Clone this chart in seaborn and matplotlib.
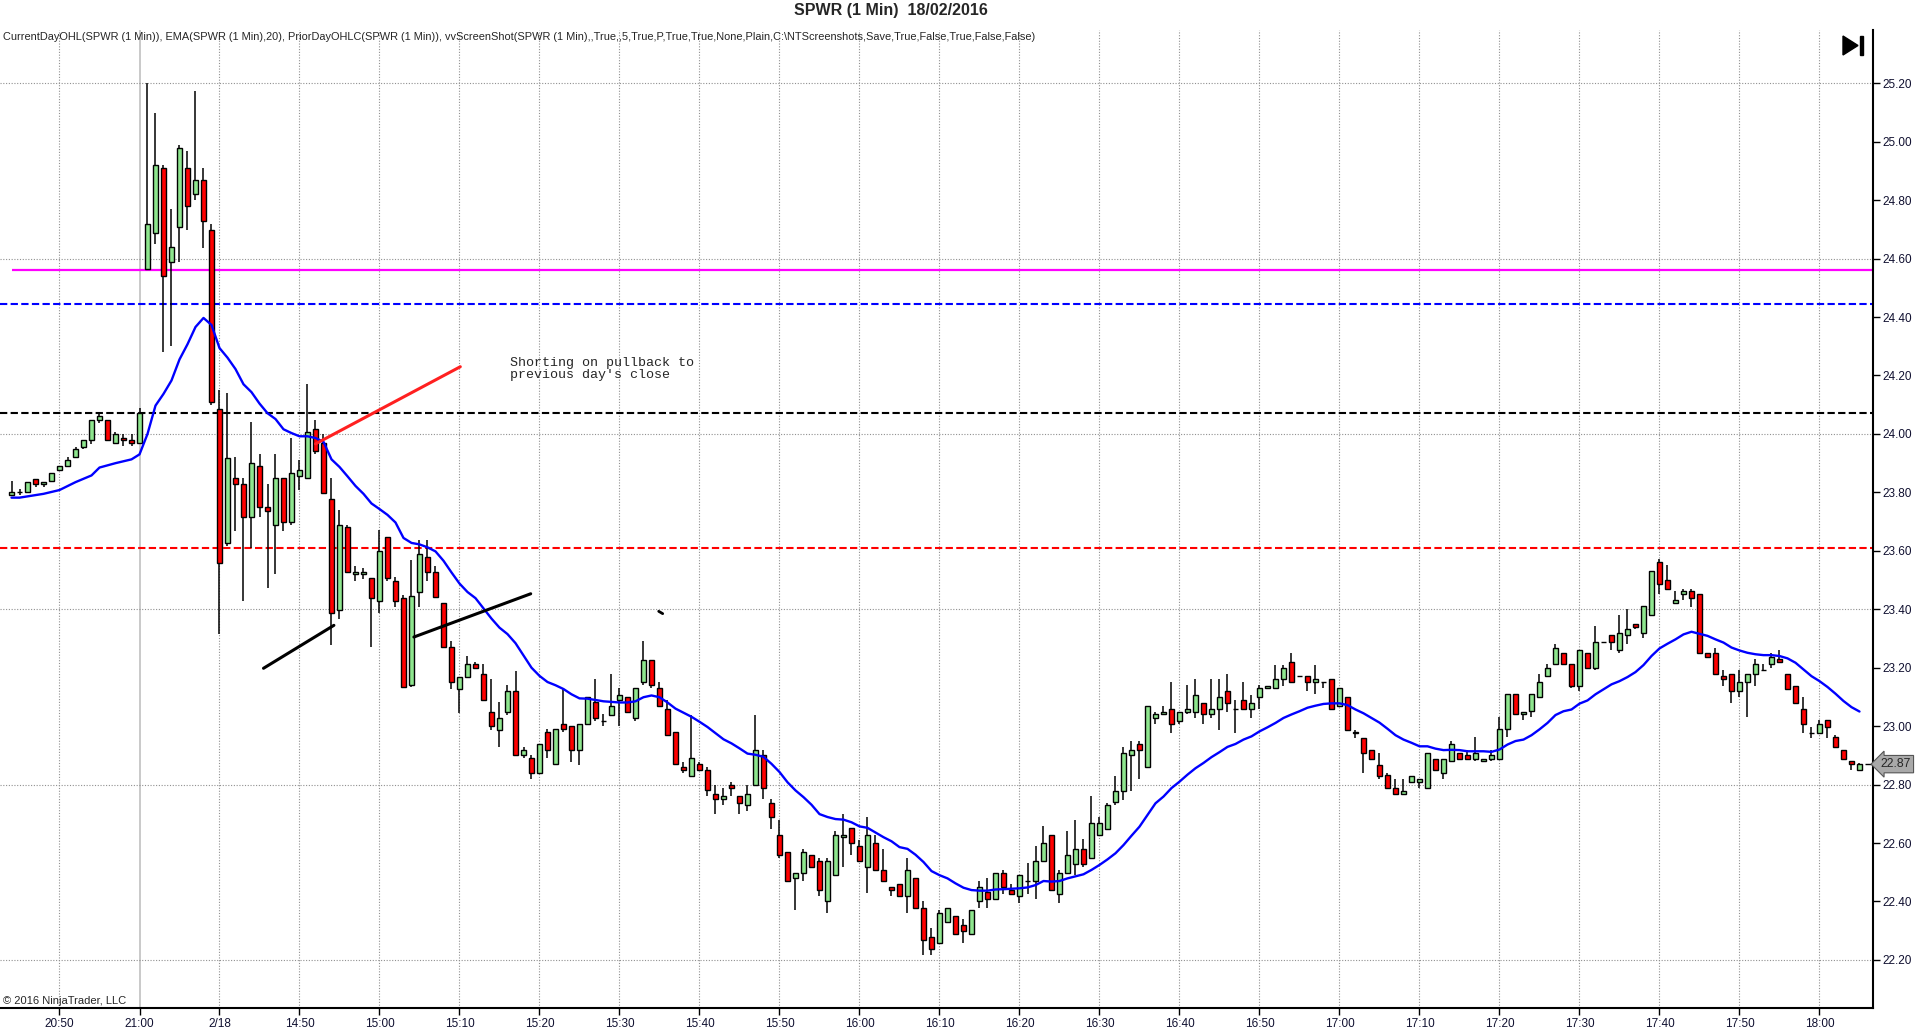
import numpy as np
import pandas as pd
import matplotlib
matplotlib.use("Agg")
import matplotlib.pyplot as plt
import matplotlib.transforms as mtransforms
from matplotlib.patches import Polygon
import seaborn as sns

# 1 分钟K线数据
open_ = [
    23.79, 23.80, 23.80, 23.845, 23.83, 23.838, 23.878, 23.89, 23.92, 23.955,
    23.98, 24.049, 24.049, 23.969, 23.987, 23.978, 23.969, 24.563, 24.688, 24.91,
    24.59, 24.708, 24.91, 24.82, 24.869, 24.697, 24.087, 23.627, 23.848, 23.83,
    23.716, 23.89, 23.749, 23.69, 23.848, 23.70, 23.857, 23.848, 24.018, 23.969,
    23.778, 23.399, 23.68, 23.52, 23.52, 23.506, 23.428, 23.648, 23.497, 23.438,
    23.14, 23.458, 23.578, 23.529, 23.42, 23.27, 23.127, 23.169, 23.211, 23.18,
    23.05, 22.987, 23.049, 23.119, 22.90, 22.89, 22.84, 22.979, 22.87, 23.008,
    22.999, 22.92, 23.008, 23.081, 23.018, 23.039, 23.088, 23.10, 23.029, 23.15,
    23.228, 23.129, 23.06, 22.979, 22.859, 22.83, 22.869, 22.85, 22.769, 22.75,
    22.80, 22.76, 22.73, 22.80, 22.90, 22.738, 22.629, 22.57, 22.479, 22.499,
    22.559, 22.54, 22.40, 22.489, 22.62, 22.65, 22.59, 22.519, 22.60, 22.509,
    22.45, 22.46, 22.42, 22.479, 22.376, 22.278, 22.258, 22.33, 22.35, 22.319,
    22.288, 22.40, 22.433, 22.408, 22.497, 22.439, 22.418, 22.47, 22.47, 22.539,
    22.628, 22.427, 22.497, 22.528, 22.58, 22.549, 22.628, 22.648, 22.739, 22.779,
    22.90, 22.94, 22.859, 23.029, 23.04, 23.06, 23.019, 23.05, 23.05, 23.08,
    23.04, 23.06, 23.119, 23.06, 23.09, 23.06, 23.10, 23.129, 23.129, 23.16,
    23.22, 23.17, 23.17, 23.15, 23.15, 23.16, 23.07, 23.10, 22.977, 22.96,
    22.92, 22.868, 22.832, 22.789, 22.769, 22.809, 22.809, 22.789, 22.889, 22.84,
    22.88, 22.909, 22.90, 22.889, 22.88, 22.889, 22.889, 22.989, 23.109, 23.04,
    23.051, 23.10, 23.171, 23.211, 23.249, 23.211, 23.139, 23.249, 23.20, 23.289,
    23.311, 23.26, 23.311, 23.349, 23.32, 23.38, 23.562, 23.499, 23.42, 23.451,
    23.463, 23.451, 23.249, 23.249, 23.171, 23.18, 23.12, 23.151, 23.18, 23.191,
    23.211, 23.229, 23.18, 23.139, 23.06, 22.977, 22.977, 23.02, 22.962, 22.92,
    22.88, 22.85,
]
high_ = [
    23.84, 23.81, 23.835, 23.845, 23.836, 23.868, 23.89, 23.92, 23.955, 23.98,
    24.049, 24.07, 24.049, 24.008, 24.0, 24.0, 24.088, 25.20, 25.10, 24.922,
    24.77, 24.99, 24.969, 25.174, 24.91, 24.718, 24.15, 24.139, 23.92, 23.848,
    24.04, 23.932, 23.83, 23.932, 23.848, 23.987, 23.91, 24.172, 24.049, 24.0,
    23.848, 23.739, 23.69, 23.548, 23.54, 23.506, 23.67, 23.648, 23.509, 23.45,
    23.57, 23.638, 23.638, 23.548, 23.42, 23.29, 23.169, 23.239, 23.221, 23.211,
    23.16, 23.081, 23.14, 23.19, 22.93, 22.90, 22.94, 22.99, 22.989, 23.13,
    22.999, 23.008, 23.10, 23.16, 23.04, 23.18, 23.13, 23.10, 23.129, 23.29,
    23.228, 23.15, 23.088, 22.979, 22.878, 23.039, 22.878, 22.859, 22.80, 22.79,
    22.808, 22.76, 22.80, 23.039, 22.92, 22.75, 22.68, 22.57, 22.499, 22.58,
    22.559, 22.55, 22.55, 22.64, 22.70, 22.65, 22.61, 22.69, 22.629, 22.58,
    22.45, 22.46, 22.55, 22.479, 22.40, 22.31, 22.37, 22.376, 22.35, 22.34,
    22.37, 22.47, 22.48, 22.497, 22.509, 22.46, 22.49, 22.53, 22.59, 22.658,
    22.628, 22.508, 22.64, 22.679, 22.613, 22.76, 22.69, 22.736, 22.83, 22.93,
    22.95, 22.95, 23.07, 23.05, 23.07, 23.15, 23.05, 23.14, 23.16, 23.08,
    23.16, 23.16, 23.18, 23.09, 23.15, 23.108, 23.14, 23.139, 23.21, 23.21,
    23.25, 23.17, 23.17, 23.21, 23.15, 23.16, 23.129, 23.10, 22.987, 22.96,
    22.92, 22.908, 22.84, 22.82, 22.82, 22.83, 22.82, 22.909, 22.889, 22.889,
    22.95, 22.909, 22.92, 22.962, 22.889, 22.92, 23.03, 23.109, 23.109, 23.05,
    23.109, 23.18, 23.211, 23.28, 23.249, 23.211, 23.259, 23.249, 23.343, 23.289,
    23.311, 23.38, 23.40, 23.349, 23.411, 23.531, 23.571, 23.551, 23.463, 23.469,
    23.469, 23.451, 23.249, 23.269, 23.191, 23.18, 23.191, 23.18, 23.229, 23.211,
    23.249, 23.26, 23.18, 23.139, 23.10, 22.998, 23.02, 23.02, 22.971, 22.92,
    22.88, 22.875,
]
low_ = [
    23.79, 23.79, 23.80, 23.82, 23.82, 23.838, 23.876, 23.89, 23.92, 23.95,
    23.966, 24.038, 23.98, 23.969, 23.958, 23.958, 23.969, 24.56, 24.649, 24.279,
    24.30, 24.587, 24.697, 24.80, 24.638, 24.10, 23.316, 23.618, 23.667, 23.428,
    23.611, 23.716, 23.474, 23.52, 23.667, 23.69, 23.808, 23.848, 23.93, 23.799,
    23.277, 23.366, 23.529, 23.497, 23.505, 23.27, 23.388, 23.497, 23.408, 23.13,
    23.135, 23.408, 23.497, 23.441, 23.27, 23.127, 23.046, 23.169, 23.20, 23.09,
    22.987, 22.927, 23.039, 22.90, 22.89, 22.82, 22.84, 22.89, 22.87, 22.979,
    22.878, 22.868, 23.008, 23.018, 23.0, 23.039, 23.0, 23.049, 23.018, 23.14,
    23.129, 23.07, 22.969, 22.869, 22.84, 22.83, 22.85, 22.76, 22.70, 22.73,
    22.76, 22.70, 22.71, 22.80, 22.75, 22.648, 22.55, 22.47, 22.372, 22.47,
    22.519, 22.42, 22.36, 22.489, 22.519, 22.559, 22.54, 22.429, 22.509, 22.47,
    22.419, 22.42, 22.36, 22.379, 22.218, 22.218, 22.258, 22.33, 22.288, 22.258,
    22.288, 22.376, 22.376, 22.408, 22.427, 22.427, 22.395, 22.427, 22.408, 22.539,
    22.439, 22.395, 22.497, 22.49, 22.519, 22.549, 22.628, 22.648, 22.73, 22.748,
    22.779, 22.82, 22.859, 23.008, 23.04, 22.977, 23.008, 23.04, 23.029, 23.008,
    23.029, 22.987, 23.05, 22.977, 23.06, 23.029, 23.06, 23.129, 23.129, 23.139,
    23.15, 23.17, 23.119, 23.11, 23.129, 23.06, 23.07, 22.987, 22.96, 22.84,
    22.889, 22.82, 22.789, 22.769, 22.769, 22.809, 22.789, 22.789, 22.851, 22.82,
    22.88, 22.889, 22.889, 22.88, 22.88, 22.88, 22.889, 22.962, 23.04, 23.02,
    23.03, 23.10, 23.171, 23.211, 23.211, 23.131, 23.12, 23.20, 23.191, 23.289,
    23.26, 23.249, 23.28, 23.331, 23.30, 23.38, 23.451, 23.469, 23.42, 23.431,
    23.409, 23.249, 23.238, 23.18, 23.139, 23.08, 23.10, 23.031, 23.139, 23.191,
    23.20, 23.22, 23.128, 23.08, 22.977, 22.96, 22.977, 22.96, 22.929, 22.889,
    22.851, 22.85,
]
close_ = [
    23.80, 23.80, 23.835, 23.83, 23.836, 23.868, 23.89, 23.91, 23.95, 23.98,
    24.049, 24.06, 23.98, 24.0, 23.978, 23.969, 24.071, 24.718, 24.922, 24.54,
    24.64, 24.98, 24.78, 24.869, 24.728, 24.108, 23.559, 23.919, 23.83, 23.716,
    23.899, 23.749, 23.736, 23.848, 23.70, 23.868, 23.878, 24.008, 23.94, 23.799,
    23.388, 23.69, 23.529, 23.529, 23.529, 23.438, 23.598, 23.506, 23.428, 23.135,
    23.447, 23.588, 23.529, 23.441, 23.27, 23.15, 23.169, 23.211, 23.20, 23.09,
    23.0, 23.029, 23.119, 22.90, 22.92, 22.84, 22.94, 22.92, 22.989, 22.989,
    22.92, 23.008, 23.10, 23.029, 23.018, 23.07, 23.108, 23.049, 23.129, 23.228,
    23.14, 23.07, 22.969, 22.869, 22.849, 22.89, 22.85, 22.78, 22.75, 22.76,
    22.79, 22.738, 22.769, 22.92, 22.79, 22.69, 22.559, 22.47, 22.499, 22.57,
    22.519, 22.44, 22.54, 22.629, 22.629, 22.60, 22.54, 22.629, 22.509, 22.47,
    22.44, 22.42, 22.509, 22.379, 22.267, 22.239, 22.359, 22.376, 22.288, 22.298,
    22.37, 22.449, 22.408, 22.497, 22.449, 22.427, 22.49, 22.47, 22.539, 22.60,
    22.439, 22.497, 22.559, 22.58, 22.528, 22.669, 22.669, 22.73, 22.779, 22.909,
    22.92, 22.92, 23.07, 23.04, 23.05, 23.008, 23.05, 23.06, 23.108, 23.04,
    23.06, 23.10, 23.08, 23.06, 23.06, 23.08, 23.129, 23.139, 23.16, 23.20,
    23.15, 23.17, 23.15, 23.16, 23.15, 23.06, 23.129, 22.987, 22.98, 22.908,
    22.889, 22.83, 22.789, 22.769, 22.779, 22.83, 22.82, 22.909, 22.851, 22.889,
    22.94, 22.889, 22.889, 22.909, 22.889, 22.90, 22.989, 23.109, 23.04, 23.05,
    23.109, 23.15, 23.20, 23.268, 23.211, 23.139, 23.259, 23.20, 23.289, 23.289,
    23.289, 23.32, 23.331, 23.34, 23.411, 23.531, 23.488, 23.469, 23.431, 23.463,
    23.44, 23.249, 23.238, 23.18, 23.16, 23.12, 23.151, 23.18, 23.211, 23.191,
    23.238, 23.22, 23.128, 23.08, 23.008, 22.977, 23.008, 22.998, 22.929, 22.889,
    22.869, 22.87,
]

# EMA(20) 曲线（从图上读取的点）
ema_bar = (list(range(0, 2)) + [4, 6, 8, 10, 11, 13, 15] + list(range(16, 73))
           + [74] + list(range(76, 125)) + list(range(126, 232)))
ema_val = [
    23.782, 23.782, 23.795, 23.808, 23.835, 23.858, 23.885, 23.90, 23.913,
    23.93, 24.0, 24.097, 24.137, 24.183, 24.255, 24.307, 24.366, 24.397, 24.373,
    24.294, 24.261, 24.222, 24.17, 24.143, 24.104, 24.071, 24.051, 24.016, 24.003,
    23.992, 23.992, 23.986, 23.973, 23.913, 23.887, 23.855, 23.822, 23.795, 23.762,
    23.743, 23.723, 23.697, 23.644, 23.627, 23.622, 23.612, 23.598, 23.566, 23.526,
    23.488, 23.459, 23.438, 23.403, 23.368, 23.337, 23.315, 23.284, 23.242, 23.20,
    23.172, 23.151, 23.14, 23.127, 23.109, 23.095, 23.094,
    23.085,
    23.081, 23.081, 23.085, 23.099, 23.105, 23.099, 23.081, 23.06, 23.046, 23.032,
    23.015, 22.997, 22.976, 22.955, 22.941, 22.924, 22.906, 22.902, 22.895, 22.871,
    22.843, 22.808, 22.78, 22.757, 22.731, 22.699, 22.689, 22.682, 22.68, 22.671,
    22.657, 22.652, 22.636, 22.62, 22.606, 22.586, 22.58, 22.56, 22.535, 22.504,
    22.49, 22.479, 22.462, 22.447, 22.439, 22.437, 22.437, 22.441, 22.442,
    22.445, 22.448, 22.456, 22.47, 22.468, 22.47, 22.479, 22.486, 22.493, 22.508,
    22.525, 22.544, 22.565, 22.593, 22.625, 22.656, 22.696, 22.736, 22.759, 22.788,
    22.81, 22.834, 22.856, 22.874, 22.894, 22.911, 22.929, 22.939, 22.954, 22.965,
    22.982, 22.996, 23.011, 23.028, 23.04, 23.051, 23.063, 23.07, 23.076, 23.078,
    23.078, 23.072, 23.057, 23.044, 23.028, 23.012, 22.991, 22.969, 22.954, 22.943,
    22.931, 22.931, 22.923, 22.918, 22.919, 22.918, 22.914, 22.914, 22.914, 22.912,
    22.92, 22.937, 22.949, 22.954, 22.969, 22.989, 23.011, 23.038, 23.051, 23.057,
    23.077, 23.088, 23.109, 23.126, 23.143, 23.154, 23.168, 23.185, 23.209, 23.24,
    23.266, 23.282, 23.297, 23.314, 23.323, 23.316, 23.309, 23.297, 23.286, 23.269,
    23.259, 23.251, 23.246, 23.243, 23.243, 23.24, 23.232, 23.217, 23.194, 23.171,
    23.154, 23.134, 23.111, 23.086, 23.065, 23.05,
]

# 时间轴标签（每10根K线一格）
time_labels = ["20:50", "21:00", "2/18", "14:50", "15:00", "15:10", "15:20", "15:30",
               "15:40", "15:50", "16:00", "16:10", "16:20", "16:30", "16:40", "16:50",
               "17:00", "17:10", "17:20", "17:30", "17:40", "17:50", "18:00"]
time_bars = [6 + 10 * k for k in range(len(time_labels))]

# 前一日/当日参考价位
current_open = 24.56
prior_high = 24.443
prior_close = 24.072
prior_low = 23.609
last_price = 22.87

# 手画的趋势线 (bar, price)
red_line = ([38.0, 56.1], [23.966, 24.23])
black_line1 = ([31.5, 40.3], [23.198, 23.345])
black_line2 = ([50.3, 64.9], [23.305, 23.453])
tick_mark = ([80.9, 81.4], [23.393, 23.385])

price_ticks = np.round(np.arange(22.2, 25.21, 0.2), 2)
grid_prices = [25.2, 24.6, 24.0, 23.4, 22.8, 22.2]

sns.set_style("white")
plt.rcParams["font.family"] = ["Liberation Sans", "DejaVu Sans"]
narrow = ["Liberation Sans Narrow", "Liberation Sans", "DejaVu Sans"]

W, H = 1920, 1034
fig = plt.figure(figsize=(W / 100, H / 100), dpi=100)
ax = fig.add_axes([0, (H - 1008) / H, 1873 / W, (1008 - 30) / H])

x = np.arange(len(open_))
o = np.array(open_)
c = np.array(close_)
hi = np.array(high_)
lo = np.array(low_)
xmax = (1873 - 11.5) / 8

# 网格
grid_ls = (0, (1, 1.5))
for b in time_bars:
    if b == 16:
        ax.axvline(b, color="#c0c0c0", lw=1.2, zorder=0)
    else:
        ax.axvline(b, color="#909090", lw=0.8, ls=grid_ls, zorder=0)
for p in grid_prices:
    ax.axhline(p, color="#909090", lw=0.8, ls=grid_ls, zorder=0)

# 参考价位线
dash = (0, (3.5, 1.6))
ax.axhline(prior_high, color="#0000ff", lw=1.5, ls=dash, zorder=1)
ax.axhline(prior_close, color="black", lw=1.5, ls=dash, zorder=1)
ax.axhline(prior_low, color="#ff0000", lw=1.5, ls=dash, zorder=1)
ax.hlines(current_open, 0, xmax, color="#ff00ff", lw=1.6, zorder=1)

# K线
ax.vlines(x, lo, hi, color="black", lw=1.1, zorder=2)
up = c >= o
colors = np.where(up, "#8ee68e", "#ff0000")
ax.bar(x, np.abs(c - o), bottom=np.minimum(o, c), width=0.62, color=colors,
       edgecolor="black", linewidth=1.0, zorder=3)

# EMA
ema_df = pd.DataFrame({"bar": ema_bar, "ema": ema_val})
sns.lineplot(data=ema_df, x="bar", y="ema", color="#0000ff", lw=1.7, ax=ax,
             zorder=4, estimator=None)

# 手画线
ax.plot(*red_line, color="#ff2020", lw=2.2, zorder=5, solid_capstyle="round")
ax.plot(*black_line1, color="black", lw=2.2, zorder=5)
ax.plot(*black_line2, color="black", lw=2.2, zorder=5)
ax.plot(*tick_mark, color="black", lw=2, zorder=5)
ax.hlines(last_price, 231.7, xmax, color="black", lw=1, zorder=5)

ax.text(62.3, 24.262, "Shorting on pullback to\nprevious day's close",
        family=["Liberation Mono", "DejaVu Sans Mono"], fontsize=9.6,
        va="top", ha="left", linespacing=0.95, zorder=6)

ax.set_xlim(-11.5 / 8, xmax)
ax.set_ylim(22.0354, 25.3824)
ax.set_xlabel("")
ax.set_ylabel("")

ax.set_xticks(time_bars)
ax.set_xticklabels(time_labels, fontsize=8.5, family=narrow)
ax.yaxis.tick_right()
ax.set_yticks(price_ticks)
ax.set_yticklabels([f"{p:.2f}" for p in price_ticks], fontsize=8.5, family=narrow)
ax.tick_params(axis="both", direction="out", length=5, width=1, color="black",
               pad=2, labelcolor="#101030")
ax.tick_params(axis="x", bottom=True)
ax.tick_params(axis="y", right=True, left=False)
for side in ["left", "top"]:
    ax.spines[side].set_visible(False)
for side in ["right", "bottom"]:
    ax.spines[side].set_visible(True)
    ax.spines[side].set_color("black")
    ax.spines[side].set_linewidth(1.5)
ax.grid(False)

# 最新价标签
trans = mtransforms.blended_transform_factory(ax.transAxes, ax.transData)
ax.text(1.004, last_price, "22.87", transform=trans, fontsize=8.8, va="center",
        ha="left", family=narrow,
        bbox=dict(boxstyle="larrow,pad=0.22", fc="#a9a9a9", ec="#555555", lw=0.8),
        clip_on=False, zorder=10)

# 标题与说明文字
fig.text(891 / W, 1 - 10 / H, "SPWR (1 Min)  18/02/2016", ha="center", va="center",
         fontsize=11.5, fontweight="bold", family=narrow)
fig.text(3 / W, 1 - 37 / H,
         "CurrentDayOHL(SPWR (1 Min)), EMA(SPWR (1 Min),20), PriorDayOHLC(SPWR (1 Min)), "
         "vvScreenShot(SPWR (1 Min),,True,,5,True,P,True,True,None,Plain,"
         "C:\\NTScreenshots,Save,True,False,True,False,False)",
         ha="left", va="center", fontsize=7.95, family=narrow)
fig.text(3 / W, 1 - 1001 / H, "© 2016 NinjaTrader, LLC", ha="left", va="center",
         fontsize=8.0, family=narrow)

# 右上角播放图标
tri = Polygon([[1843 / W, 1 - 36 / H], [1843 / W, 1 - 55 / H], [1858 / W, 1 - 45.5 / H]],
              closed=True, transform=fig.transFigure, color="black")
bar_icon = Polygon([[1860 / W, 1 - 36 / H], [1863 / W, 1 - 36 / H],
                    [1863 / W, 1 - 55 / H], [1860 / W, 1 - 55 / H]],
                   closed=True, transform=fig.transFigure, color="black")
fig.add_artist(tri)
fig.add_artist(bar_icon)

fig.savefig("out.png", dpi=100, facecolor="white")
